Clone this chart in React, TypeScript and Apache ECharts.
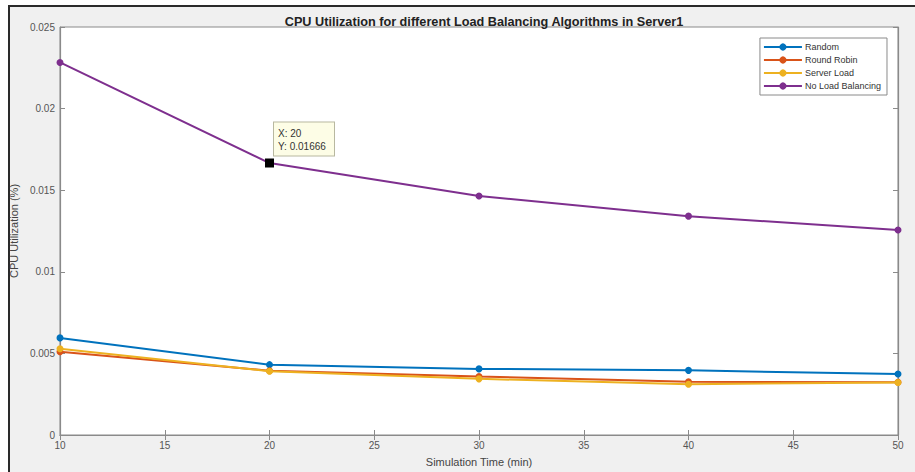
import React, { useEffect, useRef } from "react";
import * as echarts from "echarts";

const times = [10, 20, 30, 40, 50];
const randomVals = [0.00595, 0.00431, 0.00405, 0.00396, 0.00374];
const roundRobinVals = [0.0051, 0.00394, 0.00358, 0.00326, 0.00323];
const serverLoadVals = [0.00528, 0.00391, 0.00344, 0.00311, 0.00322];
const noLoadVals = [0.02283, 0.01666, 0.01464, 0.01341, 0.01256];
const seriesNames = ["Random", "Round Robin", "Server Load", "No Load Balancing"];
const seriesColors = ["#0072BD", "#D95319", "#EDB120", "#7E2F8E"];
const tip = { x: 20, y: 0.01666 };

const FONT = "'Liberation Sans', Arial, sans-serif";

export default function App() {
  const ref = useRef<HTMLDivElement>(null);
  useEffect(() => {
    if (!ref.current) return;
    const chart = echarts.init(ref.current, undefined, { renderer: "svg" });
    const allVals = [randomVals, roundRobinVals, serverLoadVals, noLoadVals];
    const axisLine = { show: true, lineStyle: { color: "#8a8a8a", width: 1.2 } };
    const tickStyle = { show: true, inside: true, length: 5, lineStyle: { color: "#8a8a8a" } };
    const series: any[] = allVals.map((vals, i) => ({
      name: seriesNames[i],
      type: "line",
      data: times.map((t, j) => [t, vals[j]]),
      symbol: "circle",
      symbolSize: 7,
      showSymbol: true,
      lineStyle: { width: 2, color: seriesColors[i] },
      itemStyle: { color: seriesColors[i] },
      z: 2 + i,
    }));
    series[3].markPoint = {
      symbol: "rect",
      symbolSize: 7,
      z: 20,
      itemStyle: { color: "#000", borderColor: "#000" },
      data: [
        {
          coord: [tip.x, tip.y],
          itemStyle: { color: "#000", borderColor: "#000" },
          label: {
            show: true,
            position: [9, -36],
            formatter: `X: ${tip.x}\nY: ${tip.y}`,
            color: "#333",
            fontFamily: FONT,
            fontSize: 10,
            lineHeight: 13,
            backgroundColor: "#fdfde6",
            borderColor: "#b8b8a0",
            borderWidth: 1,
            padding: [4, 6, 3, 4],
            width: 50,
            align: "left",
          },
        },
      ],
    };
    chart.setOption({
      animation: false,
      backgroundColor: "transparent",
      graphic: [
        {
          type: "rect",
          shape: { x: 9, y: 6, width: 930, height: 490 },
          style: { fill: "#f0f0f0", stroke: "#2a2a2a", lineWidth: 2 },
          z: -10,
          silent: true,
        },
      ],
      title: {
        text: "CPU Utilization for different Load Balancing Algorithms in Server1",
        left: 479,
        textAlign: "center",
        top: 10,
        textStyle: { fontFamily: FONT, fontSize: 12.7, fontWeight: "bold", color: "#222" },
      },
      legend: {
        data: seriesNames,
        orient: "vertical",
        right: 28,
        top: 38,
        padding: [4, 6, 4, 3],
        itemGap: 3,
        itemWidth: 38,
        itemHeight: 9,
        backgroundColor: "#fff",
        borderColor: "#8a8a8a",
        borderWidth: 1,
        textStyle: { fontFamily: FONT, fontSize: 9, color: "#333", lineHeight: 10, padding: [0, 0, 0, -2] },
      },
      grid: { left: 60, right: 17, top: 27, bottom: 33, show: true, backgroundColor: "#fff", borderColor: "#8a8a8a", borderWidth: 1 },
      xAxis: [
        {
          type: "value",
          min: 10,
          max: 50,
          interval: 5,
          name: "Simulation Time (min)",
          nameLocation: "middle",
          nameGap: 21,
          nameTextStyle: { fontFamily: FONT, fontSize: 11, color: "#444" },
          axisLine,
          axisTick: tickStyle,
          splitLine: { show: false },
          axisLabel: { fontFamily: FONT, fontSize: 10, color: "#555", margin: 5 },
        },
        {
          type: "value",
          position: "top",
          min: 10,
          max: 50,
          interval: 5,
          axisLine,
          axisTick: tickStyle,
          splitLine: { show: false },
          axisLabel: { show: false },
        },
      ],
      yAxis: [
        {
          type: "value",
          min: 0,
          max: 0.025,
          interval: 0.005,
          name: "CPU Utilization (%)",
          nameLocation: "middle",
          nameGap: 36,
          nameTextStyle: { fontFamily: FONT, fontSize: 11, color: "#444" },
          axisLine,
          axisTick: tickStyle,
          splitLine: { show: false },
          axisLabel: { fontFamily: FONT, fontSize: 10, color: "#555", margin: 5 },
        },
        {
          type: "value",
          position: "right",
          min: 0,
          max: 0.025,
          interval: 0.005,
          axisLine,
          axisTick: tickStyle,
          splitLine: { show: false },
          axisLabel: { show: false },
        },
      ],
      series,
    });
    return () => chart.dispose();
  }, []);
  return (
    <div
      ref={ref}
      style={{ position: "fixed", left: 0, top: 0, width: 915, height: 472, background: "#fff" }}
    />
  );
}
